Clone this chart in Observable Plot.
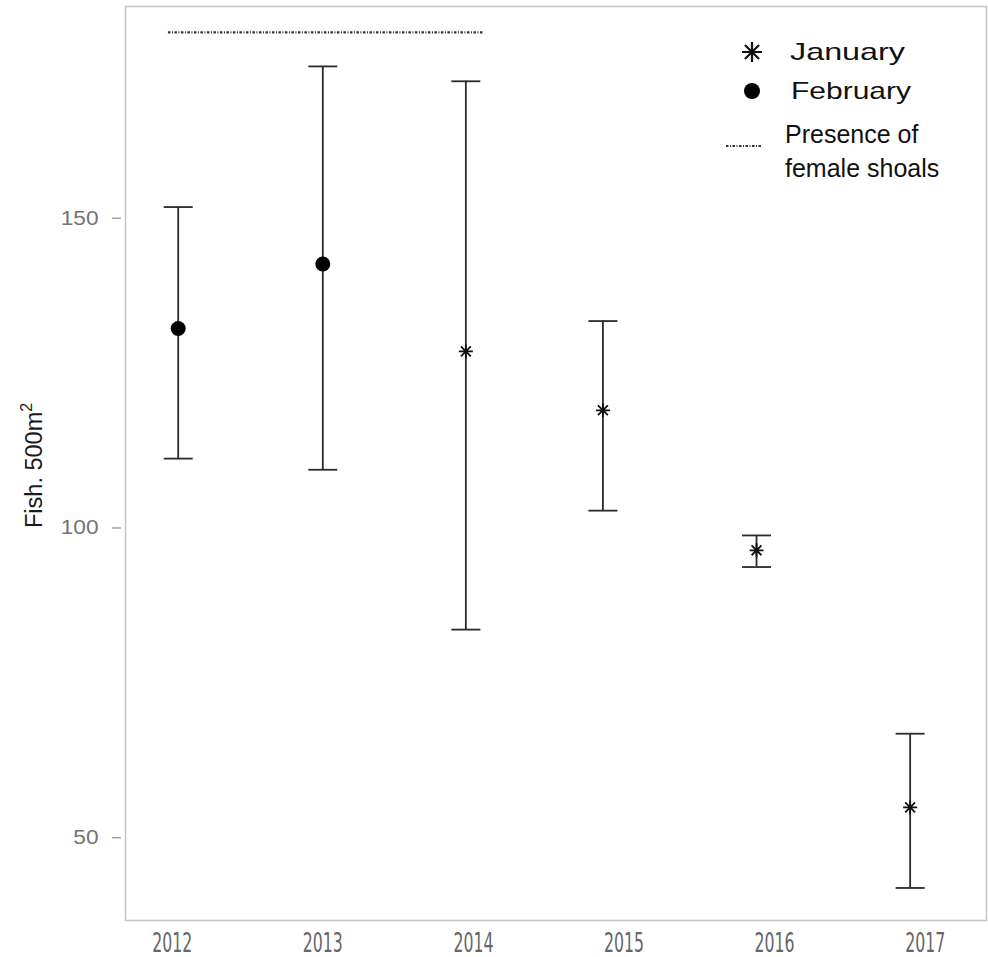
<!DOCTYPE html>
<html>
<head>
<meta charset="utf-8">
<script src="https://cdn.jsdelivr.net/npm/d3@7"></script>
<script src="https://cdn.jsdelivr.net/npm/@observablehq/plot@0.6"></script>
<style>
  html, body { margin: 0; padding: 0; background: #fff; }
  #chart { width: 988px; height: 957px; }
</style>
</head>
<body>
<div id="chart"></div>
<script>
// Survey years and the time (fractional year) each survey was plotted at
const years = [2012, 2013, 2014, 2015, 2016, 2017];
const surveyTime = [2012.04, 2013.0, 2013.95, 2014.86, 2015.88, 2016.9];
const surveyMonth = ["February", "February", "January", "January", "January", "January"];

// Fish per 500 m²: mean and interval bounds
const meanFish = [132.2, 142.6, 128.5, 119.0, 96.4, 54.9];
const lowerFish = [111.2, 109.4, 83.6, 102.8, 93.7, 41.9];
const upperFish = [151.8, 174.5, 172.1, 133.4, 98.8, 66.8];

// Period with female shoals present
const shoalSpan = [2011.975, 2014.07];
const shoalLevel = 180;

const yTicks = [50, 100, 150];
const monthLabels = ["January", "February"];
const shoalLabel = ["Presence of", "female shoals"];

const rows = years.map((year, i) => ({
  year,
  t: surveyTime[i],
  month: surveyMonth[i],
  mean: meanFish[i],
  lo: lowerFish[i],
  hi: upperFish[i]
}));
const shoals = [{x1: shoalSpan[0], x2: shoalSpan[1], y: shoalLevel}];

// Eight-armed asterisk and a horizontal cap as custom symbols
const star8 = {
  draw(ctx, size) {
    const r = Math.sqrt(size / Math.PI);
    for (let k = 0; k < 4; k++) {
      const a = (k * Math.PI) / 4;
      const c = Math.cos(a) * r, s = Math.sin(a) * r;
      ctx.moveTo(c, s);
      ctx.lineTo(-c, -s);
    }
  }
};
const cap = {
  draw(ctx, size) {
    const r = Math.sqrt(size / Math.PI);
    ctx.moveTo(-r, 0);
    ctx.lineTo(r, 0);
  }
};

const ink = "#2a2a2a";
const dotDash = "2.5 1.5 1 1.5";

const chart = Plot.plot({
  width: 988,
  height: 957,
  marginLeft: 125,
  marginRight: 2,
  marginTop: 6,
  marginBottom: 37,
  style: {fontFamily: "'Liberation Sans', Arial, sans-serif", background: "#fff"},
  x: {domain: [2011.69, 2017.407]},
  y: {domain: [36.65, 184.17]},
  marks: [
    Plot.frame({stroke: "#c4c4c4", strokeWidth: 1.5}),
    Plot.axisY({ticks: yTicks, tickSize: 9, tickPadding: 14, dx: -4, label: null,
      fontSize: 21, fontFamily: "'Liberation Sans', Arial, sans-serif", color: "#747474"}),
    Plot.axisX({ticks: years, tickFormat: d => String(d), tickSize: 0, tickPadding: 13, label: null,
      fontSize: 26, fontFamily: "'Liberation Sans Narrow', 'DejaVu Sans Condensed', 'Liberation Sans', sans-serif",
      color: "#666"}),
    Plot.ruleY(shoals, {y: "y", x1: "x1", x2: "x2", stroke: "#333", strokeWidth: 2.4, strokeDasharray: dotDash}),
    Plot.ruleX(rows, {x: "t", y1: "lo", y2: "hi", stroke: ink, strokeWidth: 1.8}),
    Plot.dot(rows, {x: "t", y: "lo", symbol: cap, r: 14.5, fill: "none", stroke: ink, strokeWidth: 1.8}),
    Plot.dot(rows, {x: "t", y: "hi", symbol: cap, r: 14.5, fill: "none", stroke: ink, strokeWidth: 1.8}),
    Plot.dot(rows.filter(d => d.month === "January"), {x: "t", y: "mean", symbol: star8, r: 7,
      fill: "none", stroke: "#111", strokeWidth: 1.8}),
    Plot.dot(rows.filter(d => d.month === "February"), {x: "t", y: "mean", r: 7.5, fill: "#000", stroke: "none"})
  ]
});

document.getElementById("chart").appendChild(chart);

const svg = d3.select(chart);

// Tall, narrow year labels
svg.selectAll('g[aria-label="x-axis tick label"] text')
  .attr("textLength", 40)
  .attr("lengthAdjust", "spacingAndGlyphs");

// Wide value labels on the y axis
svg.selectAll('g[aria-label="y-axis tick label"] text')
  .attr("font-size", 20)
  .attr("textLength", function () { return 12.6 * this.textContent.length; })
  .attr("lengthAdjust", "spacingAndGlyphs");

// Rotated y-axis title with superscript
const title = svg.append("text")
  .attr("transform", "translate(42,528) rotate(-90)")
  .attr("text-anchor", "start")
  .attr("font-family", "'Liberation Sans', Arial, sans-serif")
  .attr("font-size", 23.5)
  .attr("fill", "#1a1a1a");
title.append("tspan").text("Fish. 500m");
title.append("tspan").attr("font-size", 16).attr("dy", -10).text("2");

// Legend
const lg = svg.append("g")
  .attr("font-family", "'Liberation Sans', Arial, sans-serif")
  .attr("text-anchor", "start")
  .attr("fill", "#111");
const starPath = d3.path();
star8.draw(starPath, 10 * 10 * Math.PI);
lg.append("path").attr("d", starPath.toString())
  .attr("transform", "translate(752,52)").attr("fill", "none").attr("stroke", "#111").attr("stroke-width", 2.2);
lg.append("text").attr("x", 790).attr("y", 60).attr("font-size", 24)
  .attr("textLength", 115).attr("lengthAdjust", "spacingAndGlyphs").text(monthLabels[0]);
lg.append("circle").attr("cx", 752).attr("cy", 91).attr("r", 8).attr("fill", "#000");
lg.append("text").attr("x", 791).attr("y", 99).attr("font-size", 24)
  .attr("textLength", 120).attr("lengthAdjust", "spacingAndGlyphs").text(monthLabels[1]);
lg.append("line").attr("x1", 726).attr("x2", 762).attr("y1", 146).attr("y2", 146)
  .attr("stroke", "#333").attr("stroke-width", 2.2).attr("stroke-dasharray", dotDash);
lg.append("text").attr("x", 785).attr("y", 143).attr("font-size", 25).text(shoalLabel[0]);
lg.append("text").attr("x", 785).attr("y", 177).attr("font-size", 25).text(shoalLabel[1]);
</script>
</body>
</html>
